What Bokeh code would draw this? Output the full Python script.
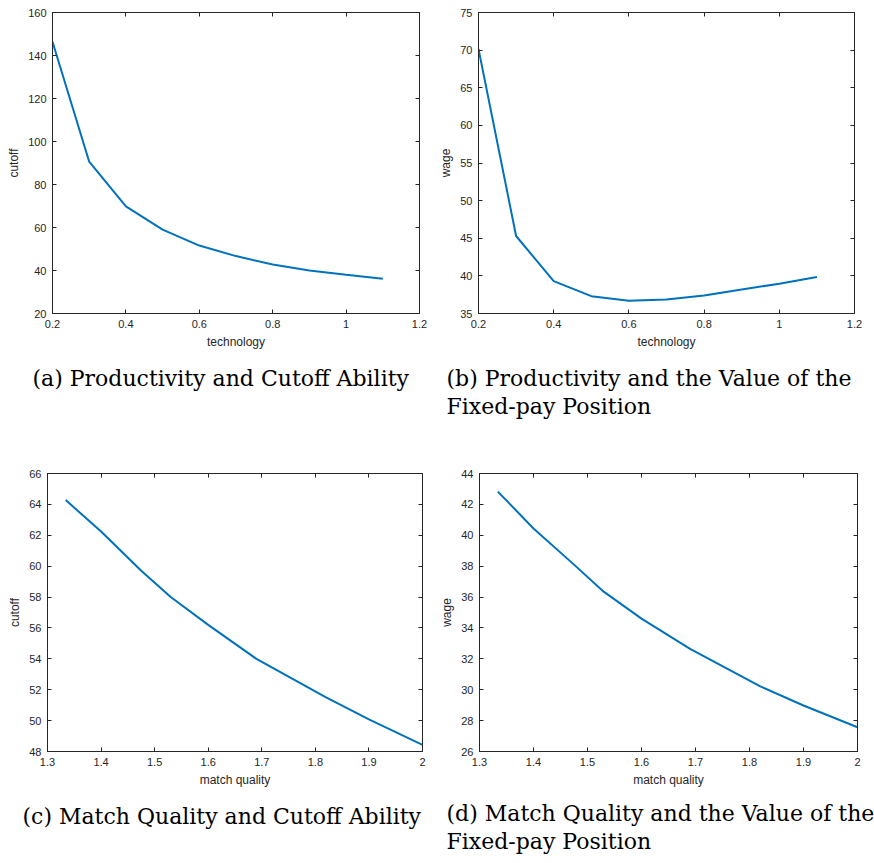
from bokeh.plotting import figure
from bokeh.layouts import column, row
from bokeh.models import LinearAxis, FixedTicker, CustomJSTickFormatter, Title, Range1d
from bokeh.embed import file_html
from bokeh.resources import INLINE

# Comparative statics: productivity (technology) and match quality
technology = [0.2, 0.3, 0.4, 0.5, 0.6, 0.7, 0.8, 0.9, 1.0, 1.1]
cutoff_by_technology = [146.4, 90.6, 69.8, 59.0, 51.6, 46.7, 42.8, 40.0, 38.0, 36.2]
wage_by_technology = [70.15, 45.3, 39.3, 37.3, 36.7, 36.85, 37.4, 38.2, 38.95, 39.85]

match_quality = [1.334, 1.40, 1.475, 1.53, 1.60, 1.69, 1.82, 1.90, 2.0]
cutoff_by_match = [64.28, 62.24, 59.7, 58.0, 56.2, 54.0, 51.5, 50.08, 48.43]
wage_by_match = [42.83, 40.44, 38.1, 36.35, 34.6, 32.64, 30.22, 28.98, 27.57]

# Tick positions
tech_ticks = [0.2, 0.4, 0.6, 0.8, 1.0, 1.2]
cutoff_tech_ticks = [20, 40, 60, 80, 100, 120, 140, 160]
wage_tech_ticks = [35, 40, 45, 50, 55, 60, 65, 70, 75]
match_ticks = [1.3, 1.4, 1.5, 1.6, 1.7, 1.8, 1.9, 2.0]
cutoff_match_ticks = [48, 50, 52, 54, 56, 58, 60, 62, 64, 66]
wage_match_ticks = [26, 28, 30, 32, 34, 36, 38, 40, 42, 44]

# Captions
caption_a = ["(a) Productivity and Cutoff Ability"]
caption_b = ["(b) Productivity and the Value of the", "Fixed-pay Position"]
caption_c = ["(c) Match Quality and Cutoff Ability"]
caption_d = ["(d) Match Quality and the Value of the", "Fixed-pay Position"]

LINE_BLUE = "#0072BD"
AXIS_GREY = "#262626"
SANS = "Liberation Sans"
SERIF = "DejaVu Serif"

fmt_code = "return String(Math.round(tick * 1000) / 1000);"


def style_axis(ax, ticks, show_labels=True):
    ax.ticker = FixedTicker(ticks=ticks)
    ax.formatter = CustomJSTickFormatter(code=fmt_code)
    ax.axis_line_color = AXIS_GREY
    ax.axis_line_width = 1
    ax.major_tick_line_color = AXIS_GREY
    ax.major_tick_in = 4
    ax.major_tick_out = 0
    ax.minor_tick_line_color = None
    ax.major_label_text_font = SANS
    ax.axis_label_text_font = SANS
    ax.axis_label_text_font_size = "12px"
    ax.axis_label_text_font_style = "normal"
    ax.axis_label_text_color = AXIS_GREY
    if show_labels:
        ax.major_label_text_color = AXIS_GREY
        ax.major_label_text_font_size = "11px"
        ax.major_label_standoff = 6
        ax.axis_label_standoff = 4
    else:
        # mirrored box ticks only, no labels painted
        ax.major_label_text_color = None
        ax.major_label_text_font_size = "0px"
        ax.major_label_standoff = 0


def panel(x, y, xr, yr, xticks, yticks, xlabel, ylabel, w, h, borders,
          caption_lines, caption_offset, caption_gap):
    left, right, top, bottom = borders
    p = figure(width=w, height=h, output_backend="svg", toolbar_location=None,
               x_range=Range1d(*xr), y_range=Range1d(*yr),
               min_border_left=left, min_border_right=right,
               min_border_top=top, min_border_bottom=bottom,
               background_fill_color="white", border_fill_color="white")
    p.outline_line_color = AXIS_GREY
    p.outline_line_width = 1
    p.grid.visible = False
    p.line(x, y, line_color=LINE_BLUE, line_width=2)

    style_axis(p.xaxis[0], xticks)
    style_axis(p.yaxis[0], yticks)
    p.xaxis[0].axis_label = xlabel
    p.yaxis[0].axis_label = ylabel

    top_ax = LinearAxis()
    style_axis(top_ax, xticks, show_labels=False)
    p.add_layout(top_ax, "above")
    right_ax = LinearAxis()
    style_axis(right_ax, yticks, show_labels=False)
    p.add_layout(right_ax, "right")

    p.add_layout(Title(text="\n".join(caption_lines), align="left", offset=caption_offset,
                       standoff=caption_gap, text_line_height=1.12,
                       text_font=SERIF, text_font_size="22px",
                       text_font_style="normal", text_color="black"), "below")
    return p


pa = panel(technology, cutoff_by_technology, (0.2, 1.2), (20, 160), tech_ticks, cutoff_tech_ticks,
           "technology", "cutoff", 430, 430, (52, 11, 12, 115), caption_a, -20, 24)
pb = panel(technology, wage_by_technology, (0.2, 1.2), (35, 75), tech_ticks, wage_tech_ticks,
           "technology", "wage", 444, 430, (48, 20, 4, 116), caption_b, -32, 24)
pc = panel(match_quality, cutoff_by_match, (1.3, 2.0), (48, 66), match_ticks, cutoff_match_ticks,
           "match quality", "cutoff", 430, 433, (47, 8, 43, 110), caption_c, -25, 25)
pd = panel(match_quality, wage_by_match, (1.3, 2.0), (26, 44), match_ticks, wage_match_ticks,
           "match quality", "wage", 444, 433, (49, 17, 24, 110), caption_d, -33, 19)

layout = column(row(pa, pb), row(pc, pd))

with open("out.html", "w") as f:
    f.write(file_html(layout, INLINE))
